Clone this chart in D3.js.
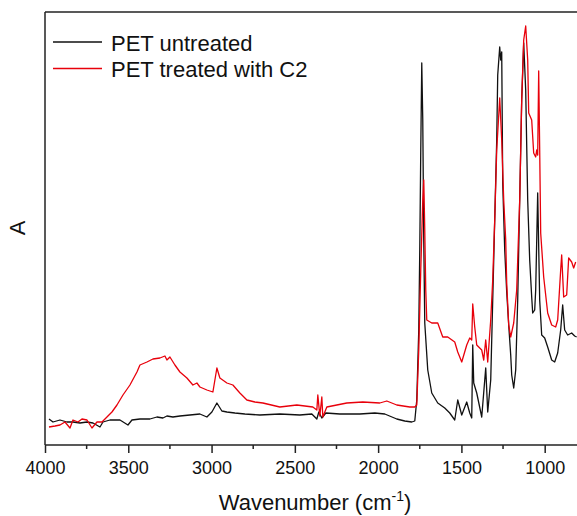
<!DOCTYPE html>
<html>
<head>
<meta charset="utf-8">
<script src="https://cdn.jsdelivr.net/npm/d3@7"></script>
<style>
  body { margin: 0; background: #fff; }
  svg { display: block; font-family: Arial, "Liberation Sans", sans-serif; }
</style>
</head>
<body>
<svg id="chart" width="577" height="516"></svg>
<script>
/* =========================
   DATA  [wavenumber, absorbance]
========================= */
const seriesNames = ["PET untreated", "PET treated with C2"];
const seriesColors = ["#111111", "#e8000b"];

const untreated = [
  [3976,0.065],[3952,0.0575],[3910,0.0625],[3868,0.0575],[3832,0.0575],[3790,0.055],
  [3748,0.0575],[3712,0.055],[3670,0.045],[3652,0.0575],[3610,0.0625],[3550,0.0625],
  [3502,0.05],[3478,0.0625],[3430,0.065],[3370,0.065],[3328,0.07],[3292,0.0675],
  [3268,0.0725],[3232,0.07],[3190,0.0725],[3130,0.075],[3070,0.0775],[3028,0.07],
  [2998,0.0825],[2968,0.105],[2938,0.085],[2908,0.0825],[2860,0.08],[2800,0.0775],
  [2710,0.075],[2590,0.0775],[2470,0.075],[2398,0.0775],[2368,0.065],[2356,0.0825],
  [2338,0.0675],[2314,0.08],[2230,0.0775],[2110,0.0775],[2020,0.08],[1960,0.0775],
  [1888,0.065],[1840,0.06],[1798,0.0575],[1780,0.06],[1768,0.1125],[1756,0.2875],
  [1750,0.4875],[1744,0.7375],[1738,0.955],[1732,0.8125],[1726,0.5125],[1720,0.305],
  [1702,0.1875],[1678,0.13],[1642,0.105],[1600,0.0925],[1570,0.08],[1540,0.0625],
  [1522,0.1125],[1498,0.075],[1468,0.1075],[1450,0.08],[1438,0.0675],[1432,0.25],
  [1426,0.155],[1408,0.13],[1378,0.07],[1354,0.1925],[1342,0.0825],[1324,0.1625],
  [1312,0.3625],[1300,0.5625],[1288,0.7625],[1282,0.925],[1270,0.995],[1264,0.9625],
  [1258,0.9825],[1252,0.655],[1240,0.4875],[1228,0.3825],[1216,0.3],[1204,0.225],
  [1198,0.175],[1186,0.1425],[1174,0.1875],[1162,0.3625],[1150,0.6125],[1138,0.8625],
  [1126,1.005],[1114,0.8875],[1102,0.6125],[1090,0.4625],[1078,0.37],[1072,0.33],
  [1060,0.3375],[1054,0.3875],[1042,0.63],[1030,0.3625],[1018,0.275],[1000,0.2675],
  [982,0.245],[958,0.2125],[940,0.2075],[922,0.23],[904,0.2875],[892,0.35],
  [880,0.2875],[862,0.275],[838,0.28],[820,0.2725],[808,0.27]
];

const treatedC2 = [
  [3976,0.045],[3940,0.0475],[3910,0.05],[3880,0.0575],[3850,0.0425],[3832,0.0625],
  [3802,0.0575],[3778,0.065],[3748,0.0625],[3718,0.0425],[3688,0.0575],[3658,0.0575],
  [3628,0.07],[3598,0.0825],[3568,0.1],[3532,0.125],[3490,0.15],[3448,0.1825],
  [3430,0.2],[3388,0.2075],[3352,0.215],[3310,0.2175],[3280,0.2225],[3268,0.2125],
  [3250,0.22],[3220,0.2],[3190,0.1825],[3148,0.1675],[3112,0.15],[3088,0.155],
  [3070,0.145],[3028,0.1375],[2992,0.1325],[2968,0.1925],[2950,0.1675],[2908,0.155],
  [2872,0.15],[2830,0.13],[2788,0.1125],[2740,0.1075],[2692,0.105],[2590,0.095],
  [2488,0.1],[2392,0.095],[2368,0.0875],[2362,0.125],[2350,0.0725],[2338,0.12],
  [2332,0.07],[2308,0.095],[2188,0.105],[2092,0.1075],[1990,0.105],[1948,0.11],
  [1888,0.1],[1810,0.095],[1780,0.095],[1768,0.1],[1756,0.2375],[1744,0.4375],
  [1732,0.6125],[1726,0.6625],[1720,0.5375],[1714,0.3875],[1708,0.3125],[1678,0.305],
  [1642,0.305],[1612,0.27],[1582,0.27],[1540,0.2575],[1522,0.2325],[1498,0.2075],
  [1468,0.25],[1450,0.2675],[1438,0.2625],[1432,0.3525],[1420,0.295],[1408,0.25],
  [1378,0.2375],[1366,0.2125],[1354,0.2625],[1342,0.2075],[1324,0.3125],[1312,0.4125],
  [1300,0.5625],[1288,0.7375],[1270,0.8675],[1258,0.7625],[1246,0.6125],[1234,0.5125],
  [1228,0.405],[1216,0.3],[1204,0.27],[1186,0.305],[1168,0.3875],[1150,0.6125],
  [1138,0.8625],[1126,1.0125],[1114,1.0475],[1102,0.9625],[1096,0.83],[1078,0.8125],
  [1066,0.73],[1054,0.72],[1048,0.7375],[1042,0.725],[1036,0.935],[1030,0.7375],
  [1024,0.53],[1006,0.42],[982,0.33],[958,0.3],[934,0.295],[922,0.3125],
  [904,0.4375],[898,0.475],[886,0.37],[868,0.375],[856,0.4675],[838,0.4575],
  [826,0.4425],[814,0.4575]
];

const xMajorTicks = [4000, 3500, 3000, 2500, 2000, 1500, 1000];
const xMinorTicks = [3750, 3250, 2750, 2250, 1750, 1250, 750];

/* =========================
   SETUP
========================= */
const svg = d3.select("#chart");
const margin = { left: 45, top: 12, bottom: 445 };

const x = d3.scaleLinear().domain([4000, 800]).range([margin.left, 578]);
const y = d3.scaleLinear().domain([0, 1.0825]).range([margin.bottom, margin.top]);

const plot = svg.append("g");

/* ===== SPECTRA ===== */
const line = d3.line()
  .x((d) => x(d[0]))
  .y((d) => y(d[1]));

[untreated, treatedC2].forEach((s, i) => {
  plot.append("path")
    .datum(s)
    .attr("fill", "none")
    .attr("stroke", seriesColors[i])
    .attr("stroke-width", 1.3)
    .attr("stroke-linejoin", "round")
    .attr("d", line);
});

/* ===== FRAME ===== */
svg.append("line")
  .attr("x1", margin.left).attr("x2", 577)
  .attr("y1", margin.top).attr("y2", margin.top)
  .attr("stroke", "#222").attr("stroke-width", 1.5);

svg.append("line")
  .attr("x1", margin.left).attr("x2", margin.left)
  .attr("y1", margin.top).attr("y2", margin.bottom)
  .attr("stroke", "#222").attr("stroke-width", 1.5);

/* ===== X AXIS ===== */
const xAxis = svg.append("g")
  .attr("transform", `translate(0,${margin.bottom})`)
  .call(d3.axisBottom(x).tickValues(xMajorTicks).tickSize(8).tickPadding(8).tickFormat(d3.format("d")));

xAxis.select(".domain").attr("stroke", "#222").attr("stroke-width", 1.5)
  .attr("d", `M${margin.left},0H577`);
xAxis.selectAll(".tick line").attr("stroke", "#222").attr("stroke-width", 1.5);
xAxis.selectAll(".tick text").attr("font-size", 18).attr("fill", "#111")
  .attr("font-family", "Arial, 'Liberation Sans', sans-serif");

svg.append("g")
  .attr("transform", `translate(0,${margin.bottom})`)
  .selectAll("line")
  .data(xMinorTicks.filter((d) => x(d) <= 577))
  .join("line")
  .attr("x1", (d) => x(d)).attr("x2", (d) => x(d))
  .attr("y1", 0).attr("y2", 4)
  .attr("stroke", "#222").attr("stroke-width", 1.5);

/* ===== AXIS TITLES ===== */
const xTitle = svg.append("text")
  .attr("x", 315).attr("y", 510)
  .attr("text-anchor", "middle")
  .attr("font-size", 22)
  .attr("fill", "#111");
xTitle.append("tspan").text("Wavenumber (cm");
xTitle.append("tspan").attr("font-size", 14).attr("dy", -9).text("-1");
xTitle.append("tspan").attr("dy", 9).text(")");

svg.append("text")
  .attr("transform", "translate(25,228) rotate(-90)")
  .attr("text-anchor", "middle")
  .attr("font-size", 22)
  .attr("fill", "#111")
  .text("A");

/* ===== LEGEND ===== */
const legend = svg.append("g");
seriesNames.forEach((name, i) => {
  const ly = 42 + i * 26.5;
  legend.append("line")
    .attr("x1", 53).attr("x2", 102)
    .attr("y1", ly).attr("y2", ly)
    .attr("stroke", seriesColors[i]).attr("stroke-width", 1.3);
  legend.append("text")
    .attr("x", 111).attr("y", ly + 8.5)
    .attr("font-size", 22)
    .attr("fill", "#111")
    .text(name);
});
</script>
</body>
</html>
